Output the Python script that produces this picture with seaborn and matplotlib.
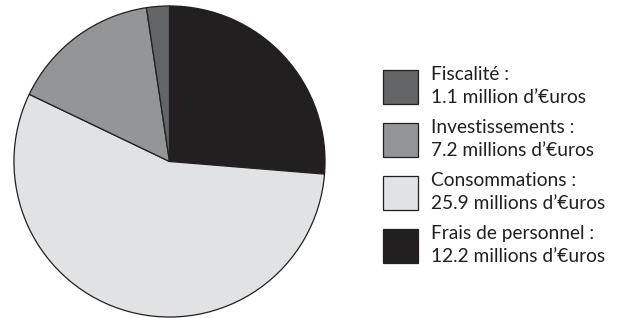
import matplotlib
matplotlib.use("Agg")
import matplotlib.pyplot as plt
import seaborn as sns

sns.set_theme(style="white")
plt.rcParams['font.family'] = ['Lato', 'DejaVu Sans']

# Data (pie order: clockwise from 12 o'clock)
categories = ["Frais de personnel", "Consommations", "Investissements", "Fiscalité"]
values = [12.2, 25.9, 7.2, 1.1]
value_labels = ["12.2 millions d’€uros", "25.9 millions d’€uros",
                "7.2 millions d’€uros", "1.1 million d’€uros"]
colors = ["#231f20", "#e1e2e4", "#939598", "#636466"]

W, H = 618, 318
fig = plt.figure(figsize=(W / 100, H / 100), dpi=100)
cx, cy, r = 169.5, 161.5, 156
ax = fig.add_axes([(cx - r) / W, (H - cy - r) / H, 2 * r / W, 2 * r / H])

wedges, _ = ax.pie(values, colors=colors, startangle=90, counterclock=False,
                   wedgeprops=dict(edgecolor="#231f20", linewidth=0.9))
ax.set_xlim(-1.003, 1.003)
ax.set_ylim(-1.003, 1.003)
ax.set_aspect("equal")
ax.axis("off")

labels = [f"{c} :\n{v}" for c, v in zip(categories, value_labels)]
fs = 13.8
fs_px = fs * 100 / 72
leg = fig.legend(wedges[::-1], labels[::-1], loc="upper left",
                 bbox_to_anchor=(383 / W, 1 - 66 / H), frameon=False,
                 fontsize=fs, handlelength=35 / fs_px, handleheight=2.35,
                 handletextpad=13 / fs_px, labelspacing=0.7, borderpad=0,
                 borderaxespad=0)
for t in leg.get_texts():
    t.set_color("#231f20")
    t.set_linespacing(1.4)
for p in leg.get_patches():
    p.set_edgecolor("#231f20")
    p.set_linewidth(0.9)

fig.savefig("out.png", dpi=100, facecolor="white")
